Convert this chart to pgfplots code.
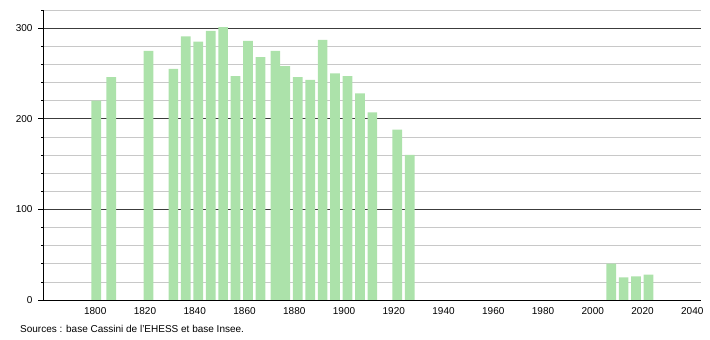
\documentclass[border=0pt]{standalone}
\usepackage{pgfplots}
\pgfplotsset{compat=1.18}
\usepackage{fontspec}
\setmainfont{Liberation Sans}
\definecolor{barg}{RGB}{172,226,170}
\definecolor{minorg}{RGB}{200,200,200}
\definecolor{majorg}{RGB}{60,60,60}
\begin{document}
\begin{tikzpicture}[x=1pt,y=1pt]
\useasboundingbox (0,0) rectangle (710,340);
\begin{axis}[
  at={(43pt,40pt)}, anchor=south west,
  scale only axis, width=658pt, height=290pt,
  xmin=1779, xmax=2043.5, ymin=0, ymax=320,
  axis lines*=left,
  axis line style={black, line width=0.8pt},
  xtick={1800,1820,...,2040},
  ytick={0,100,200,300},
  minor ytick={20,40,60,80,120,140,160,180,220,240,260,280,320},
  ymajorgrids, yminorgrids,
  major grid style={majorg, line width=0.7pt},
  minor grid style={minorg, line width=0.6pt},
  x tick style={draw=none},
  y tick style={black, line width=0.6pt},
  major tick length=5pt, minor tick length=2pt,
  tick align=outside,
  xticklabel style={/pgf/number format/1000 sep={}, yshift=1pt},
  yticklabel style={xshift=-2pt},
  /pgf/number format/assume math mode=true,
  tick label style={font=\fontsize{10}{11}\selectfont},
  ybar, bar width=3.9,
  clip=false,
]
\addplot[fill=barg, draw=none, bar shift=1pt] coordinates {
(1800,220) (1806,246) (1821,275) (1831,255) (1836,291) (1841,285)
(1846,297) (1851,301) (1856,247) (1861,286) (1866,268) (1872,275)
(1876,258) (1881,246) (1886,243) (1891,287) (1896,250) (1901,247)
(1906,228) (1911,207) (1921,188) (1926,160)
(2007,40) (2012,25) (2017,26) (2022,28)
};
\end{axis}
\node[anchor=west, inner sep=0pt, font=\fontsize{10}{11}\selectfont] at (20,11) {Sources : base Cassini de l'EHESS et base Insee.};
\end{tikzpicture}
\end{document}
